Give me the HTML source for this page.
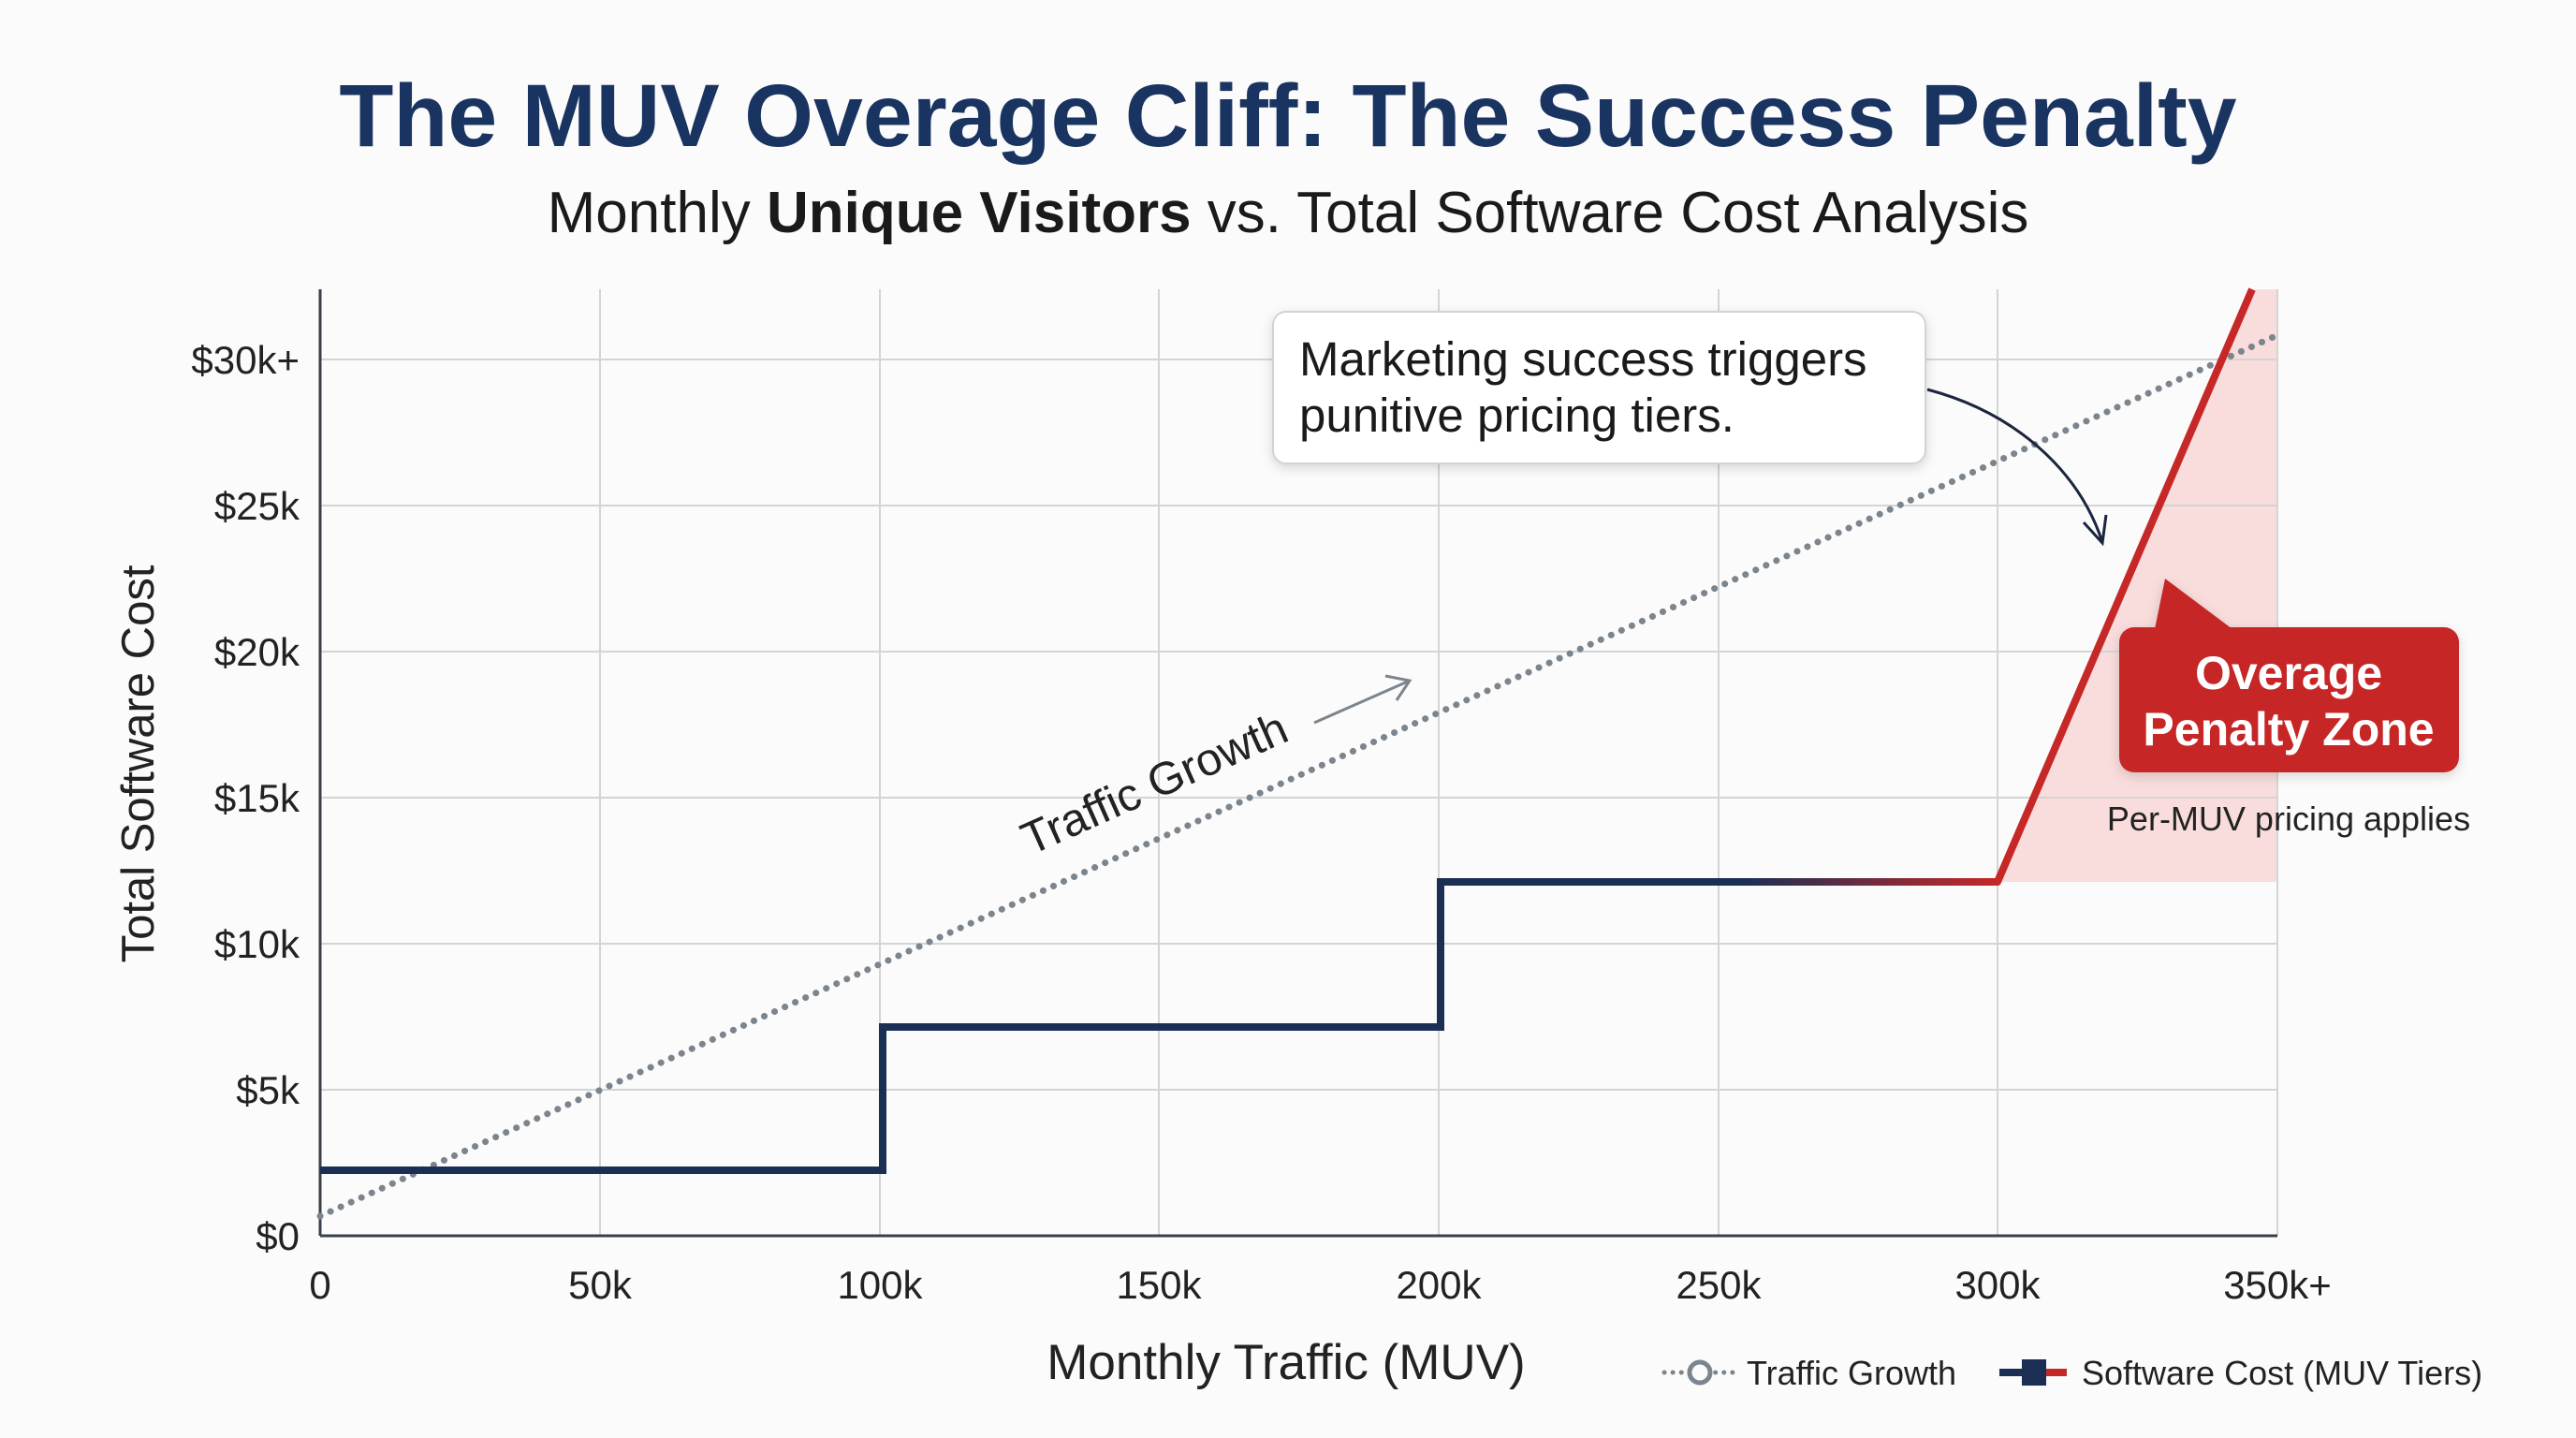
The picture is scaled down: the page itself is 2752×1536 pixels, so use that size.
<!DOCTYPE html>
<html><head><meta charset="utf-8"><style>
html,body{margin:0;padding:0;background:#fbfbfb;}
svg{display:block;font-family:"Liberation Sans","DejaVu Sans",sans-serif;}
</style></head><body>
<svg width="2752" height="1536" viewBox="0 0 2752 1536" xmlns="http://www.w3.org/2000/svg">
<defs>
<linearGradient id="lg" gradientUnits="userSpaceOnUse" x1="1535" y1="942" x2="2134" y2="942">
<stop offset="0" stop-color="#1b2f55"/><stop offset="0.55" stop-color="#1b2f55"/><stop offset="1" stop-color="#c62828"/></linearGradient>
<filter id="sh" x="-10%" y="-10%" width="120%" height="130%"><feDropShadow dx="0" dy="4" stdDeviation="6" flood-opacity="0.15"/></filter>
</defs>
<rect width="2752" height="1536" fill="#fbfbfb"/>
<text x="1376" y="156" text-anchor="middle" font-size="95" font-weight="bold" fill="#1a3461">The MUV Overage Cliff: The Success Penalty</text>
<text x="1376" y="248" text-anchor="middle" font-size="62" fill="#1a1a1a">Monthly <tspan font-weight="bold">Unique Visitors</tspan> vs. Total Software Cost Analysis</text>
<!-- pink zone -->
<polygon points="2134,942 2410,309 2433,309 2433,942" fill="#f9dcdc"/>
<!-- grid -->
<g stroke="#d4d4d4" stroke-width="2">
<line x1="641" y1="309" x2="641" y2="1320"/><line x1="940" y1="309" x2="940" y2="1320"/>
<line x1="1238" y1="309" x2="1238" y2="1320"/><line x1="1537" y1="309" x2="1537" y2="1320"/>
<line x1="1836" y1="309" x2="1836" y2="1320"/><line x1="2134" y1="309" x2="2134" y2="1320"/>
<line x1="2433" y1="309" x2="2433" y2="1320"/>
<line x1="342" y1="1164" x2="2433" y2="1164"/><line x1="342" y1="1008" x2="2433" y2="1008"/>
<line x1="342" y1="852" x2="2433" y2="852"/><line x1="342" y1="696" x2="2433" y2="696"/>
<line x1="342" y1="540" x2="2433" y2="540"/><line x1="342" y1="384" x2="2433" y2="384"/>
</g>
<line x1="342" y1="309" x2="342" y2="1320" stroke="#3a4048" stroke-width="3"/>
<line x1="342" y1="1320" x2="2433" y2="1320" stroke="#3a4048" stroke-width="3"/>
<!-- y labels -->
<g font-size="42" fill="#222" text-anchor="end">
<text x="320" y="1335">$0</text><text x="320" y="1179">$5k</text><text x="320" y="1023">$10k</text>
<text x="320" y="867">$15k</text><text x="320" y="711">$20k</text><text x="320" y="555">$25k</text><text x="320" y="399">$30k+</text>
</g>
<g font-size="42" fill="#222" text-anchor="middle">
<text x="342" y="1387">0</text><text x="641" y="1387">50k</text><text x="940" y="1387">100k</text>
<text x="1238" y="1387">150k</text><text x="1537" y="1387">200k</text><text x="1836" y="1387">250k</text>
<text x="2134" y="1387">300k</text><text x="2433" y="1387">350k+</text>
</g>
<text x="1374" y="1473" text-anchor="middle" font-size="53" fill="#222">Monthly Traffic (MUV)</text>
<text transform="translate(164,816) rotate(-90)" text-anchor="middle" font-size="49" fill="#222">Total Software Cost</text>
<!-- dotted line -->
<line x1="342" y1="1299" x2="2433" y2="358" stroke="#7c858d" stroke-width="7" stroke-dasharray="0.1 12" stroke-linecap="round"/>
<!-- steps -->
<path d="M342 1250 H943 V1097 H1539 V942" fill="none" stroke="#1b2f55" stroke-width="8"/>
<path d="M1535 942 H2134" fill="none" stroke="url(#lg)" stroke-width="8"/>
<path d="M2130 942 L2134 942 L2406 309" fill="none" stroke="#c62828" stroke-width="8" stroke-linejoin="round"/>
<!-- traffic growth label -->
<text transform="translate(1240,852) rotate(-24)" text-anchor="middle" font-size="49" fill="#222">Traffic Growth</text>
<path d="M1404 772 L1506 727 M1480 722 L1506 727 L1492 748" fill="none" stroke="#7c858d" stroke-width="3"/>
<!-- callout -->
<rect x="1360" y="333" width="697" height="162" rx="14" fill="#fff" stroke="#cfd3d8" stroke-width="2" filter="url(#sh)"/>
<text x="1388" y="401" font-size="51" fill="#1a1a1a">Marketing success triggers</text>
<text x="1388" y="461" font-size="51" fill="#1a1a1a">punitive pricing tiers.</text>
<path d="M2059 416 C2150 440 2220 500 2246 579" fill="none" stroke="#1b2540" stroke-width="3"/>
<path d="M2226 558 L2246 580 L2250 550" fill="none" stroke="#1b2540" stroke-width="3"/>
<!-- badge -->
<g filter="url(#sh)">
<path d="M2313 618 L2385 672 L2302 672 Z" fill="#c62828"/>
<rect x="2264" y="670" width="363" height="155" rx="16" fill="#c62828"/>
</g>
<text x="2445" y="736" text-anchor="middle" font-size="50" font-weight="bold" fill="#fff">Overage</text>
<text x="2445" y="796" text-anchor="middle" font-size="50" font-weight="bold" fill="#fff">Penalty Zone</text>
<text x="2445" y="887" text-anchor="middle" font-size="36" fill="#222">Per-MUV pricing applies</text>
<!-- legend -->
<line x1="1778" y1="1466" x2="1851" y2="1466" stroke="#7c858d" stroke-width="5" stroke-dasharray="0.1 9" stroke-linecap="round"/>
<circle cx="1816" cy="1466" r="11" fill="#fbfbfb" stroke="#7c858d" stroke-width="5"/>
<text x="1866" y="1479" font-size="36" fill="#222">Traffic Growth</text>
<line x1="2136" y1="1466" x2="2172" y2="1466" stroke="#1b2f55" stroke-width="8"/>
<line x1="2172" y1="1466" x2="2208" y2="1466" stroke="#c62828" stroke-width="8"/>
<rect x="2160" y="1452" width="26" height="28" fill="#1b2f55"/>
<text x="2224" y="1479" font-size="36" fill="#222">Software Cost (MUV Tiers)</text>
</svg>
</body></html>
